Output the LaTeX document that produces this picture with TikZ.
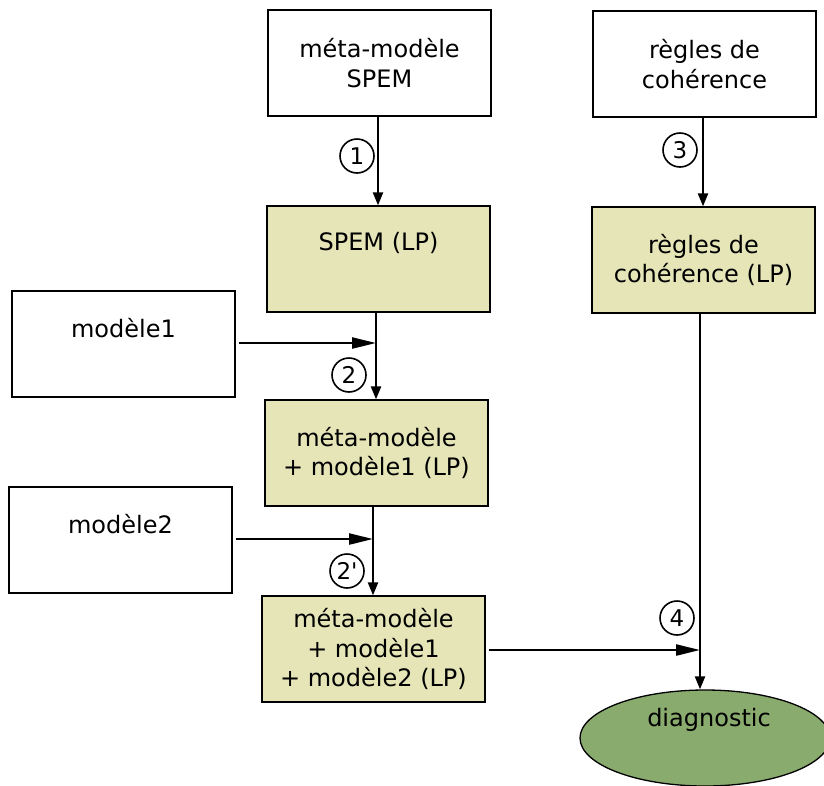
\documentclass[tikz,border=0pt]{standalone}
\usepackage{fontspec}
\setmainfont{DejaVu Sans}
\newfontfamily\numfont{DejaVu Sans}
\usetikzlibrary{arrows.meta,shapes.geometric}
\definecolor{lpfill}{RGB}{229,229,184}
\definecolor{diagfill}{RGB}{138,171,110}
\begin{document}
\begin{tikzpicture}[x=1pt,y=-1pt,
  box/.style={draw,line width=1.3pt,minimum width=223pt,minimum height=106pt,inner sep=0pt},
  lpbox/.style={box,fill=lpfill},
  txt/.style={font=\fontsize{24}{29.5}\selectfont,align=center,inner sep=0pt},
  num/.style={draw,circle,line width=1.6pt,minimum size=34pt,inner sep=0pt,font=\numfont\fontsize{23}{23}\selectfont},
  conn/.style={line width=2.2pt,-{Triangle[length=13pt,width=10pt]}},
  hconn/.style={line width=2.4pt,-{Triangle[length=24pt,width=11pt]}}
]
\useasboundingbox (0,0) rectangle (824,785);
% boxes
\node[box,txt] (m1) at (379.5,63) {méta-modèle\\SPEM};
\node[box,txt] (r1) at (704.5,64) {règles de\\cohérence};
\node[lpbox] (spem) at (378.5,259) {};
\node[txt] (spemt) at (378.5,243) {SPEM (LP)};
\node[lpbox,txt] (r2) at (703.5,260) {règles de\\cohérence (LP)};
\node[box] (mod1) at (123.5,344) {};
\node[txt] (mod1t) at (123.5,328) {modèle1};
\node[lpbox,txt] (mm1) at (376.5,453) {méta-modèle\\+ modèle1 (LP)};
\node[box] (mod2) at (120.5,540) {};
\node[txt] (mod2t) at (120.5,524) {modèle2};
\node[lpbox,txt] (mm2) at (373.5,649) {méta-modèle\\+ modèle1\\+ modèle2 (LP)};
\node[draw,ellipse,line width=1.3pt,fill=diagfill,minimum width=250pt,minimum height=96pt,inner sep=0pt] (diag) at (705,738) {};
\node[txt] (diagt) at (709,720) {diagnostic};
% junctions
\coordinate (j1) at (376,343);
\coordinate (j2) at (373,539);
\coordinate (j4) at (700,650);
% connectors
\draw[conn] (m1.south -| 378,0) -- (spem.north -| 378,0);
\draw[conn] (r1.south -| 703,0) -- (r2.north -| 703,0);
\draw[conn] (j1 |- spem.south) -- (j1 |- mm1.north);
\draw[hconn] ([xshift=3pt]mod1.east |- j1) -- (j1);
\draw[conn] (j2 |- mm1.south) -- (j2 |- mm2.north);
\draw[hconn] ([xshift=3pt]mod2.east |- j2) -- (j2);
\draw[conn] (j4 |- r2.south) -- (diag.north -| j4);
\draw[hconn] ([xshift=3pt]mm2.east |- j4) -- (j4);
% numbers
\node[num] (n1) at (357,156) {1};
\node[num] (n3) at (680,150) {3};
\node[num] (n2) at (349,375) {2};
\node[num] (n2p) at (347,571) {2'};
\node[num] (n4) at (677,618) {4};
\end{tikzpicture}
\end{document}
